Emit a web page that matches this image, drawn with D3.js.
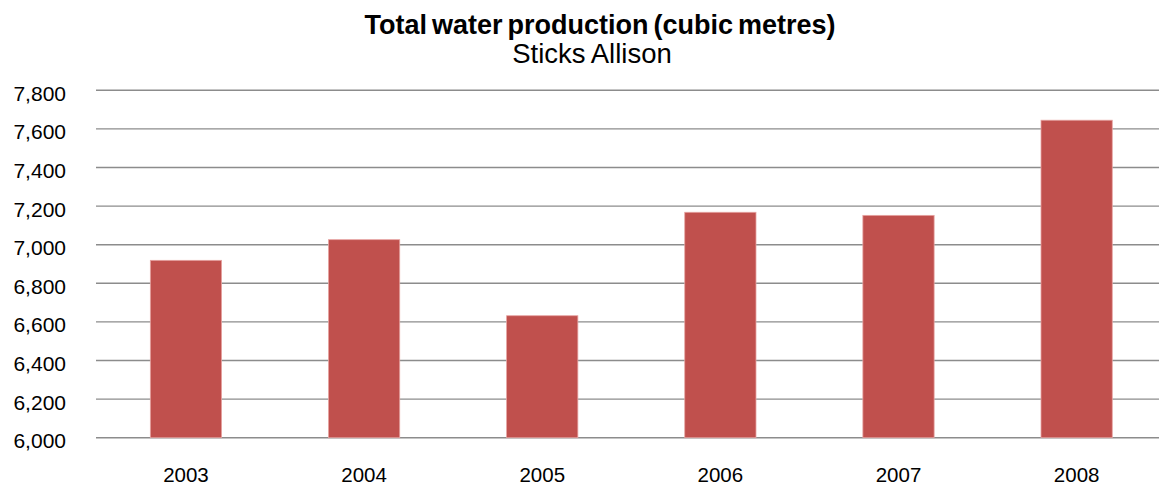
<!DOCTYPE html>
<html>
<head>
<meta charset="utf-8">
<script src="https://cdn.jsdelivr.net/npm/d3@7"></script>
<style>
  body { margin: 0; background: #fff; }
  text { font-family: "Liberation Sans", Arial, sans-serif; fill: #000; }
</style>
</head>
<body>
<div id="chart"></div>
<script>
const years = ['2003', '2004', '2005', '2006', '2007', '2008'];
const production = [6919, 7026, 6632, 7168, 7152, 7645];
const yTicks = [6000, 6200, 6400, 6600, 6800, 7000, 7200, 7400, 7600, 7800];

const width = 1159, height = 485;

const svg = d3.select('#chart')
  .append('svg')
  .attr('width', width)
  .attr('height', height);

const x = d3.scaleBand()
  .domain(years)
  .range([96.9, 1165.7])
  .paddingInner(0.6)
  .paddingOuter(0.3);

const y = d3.scaleLinear()
  .domain([6000, 7800])
  .range([437.7, 90.3]);

// gridlines
svg.append('g')
  .selectAll('line')
  .data(yTicks)
  .join('line')
  .attr('x1', 96)
  .attr('x2', width)
  .attr('y1', d => y(d))
  .attr('y2', d => y(d))
  .attr('stroke', '#8c8c8c')
  .attr('stroke-width', 1.4);

// y labels
const fmt = d3.format(',');
svg.append('g')
  .selectAll('text')
  .data(yTicks)
  .join('text')
  .attr('x', 66)
  .attr('y', d => y(d) + 10.4)
  .attr('text-anchor', 'end')
  .style('font-size', '21px')
  .text(d => fmt(d));

// bars
svg.append('g')
  .selectAll('rect')
  .data(years)
  .join('rect')
  .attr('x', d => x(d))
  .attr('width', x.bandwidth())
  .attr('y', (d, i) => y(production[i]))
  .attr('height', (d, i) => y(6000) - y(production[i]))
  .attr('fill', '#c0504d')
  .attr('stroke', '#e6a3a1')
  .attr('stroke-width', 0.8);

// x labels
svg.append('g')
  .selectAll('text')
  .data(years)
  .join('text')
  .attr('x', d => x(d) + x.bandwidth() / 2)
  .attr('y', 481.7)
  .attr('text-anchor', 'middle')
  .style('font-size', '20.5px')
  .text(d => d);

// titles
svg.append('text')
  .attr('x', 600)
  .attr('y', 33.5)
  .attr('text-anchor', 'middle')
  .style('font-size', '27px')
  .style('font-weight', 'bold')
  .style('word-spacing', '-2.5px')
  .text('Total water production (cubic metres)');

svg.append('text')
  .attr('x', 592)
  .attr('y', 63.3)
  .attr('text-anchor', 'middle')
  .style('font-size', '27.5px')
  .style('word-spacing', '-1px')
  .text('Sticks Allison');
</script>
</body>
</html>
